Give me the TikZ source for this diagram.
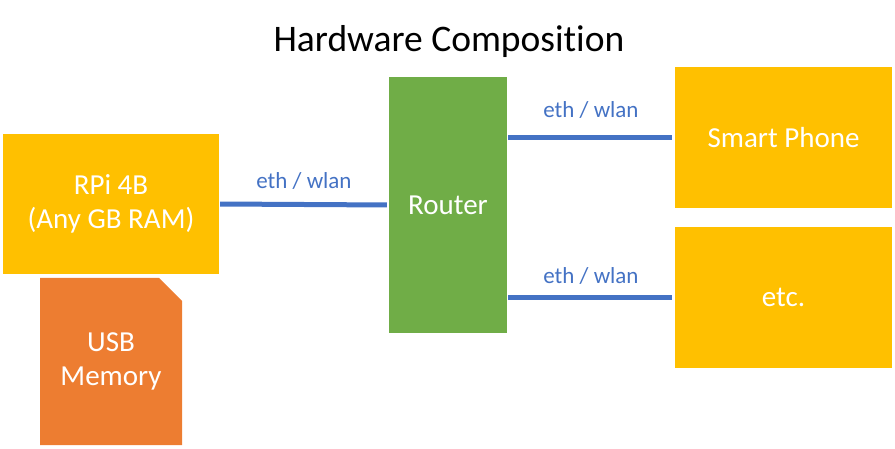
\documentclass[tikz,border=0pt]{standalone}
\usepackage{fontspec}
\setmainfont[Ligatures=NoCommon]{Carlito}
\usetikzlibrary{shapes.misc}

\definecolor{hwyellow}{HTML}{FFC000}
\definecolor{hwgreen}{HTML}{70AD47}
\definecolor{hworange}{HTML}{ED7D31}
\definecolor{hwblue}{HTML}{4472C4}

\tikzset{
    box/.style={fill=#1, text=white, inner sep=0pt, align=center,
        font=\fontsize{29}{34}\selectfont},
    link/.style={draw=hwblue, line width=5pt},
    lbl/.style={text=hwblue, font=\fontsize{23}{28}\selectfont}
}

\begin{document}
\begin{tikzpicture}[x=1pt, y=-1pt]

        \useasboundingbox (0,0) rectangle (895,449);

        \node[anchor=base, font=\fontsize{37.5}{44}\selectfont] (title) at (449,52) {Hardware Composition};

        \node[box=hwyellow, minimum width=216pt, minimum height=140pt] (rpi) at (111,204) {RPi 4B\\(Any GB RAM)};
        \node[box=hworange, chamfered rectangle, chamfered rectangle corners=north east,
            chamfered rectangle xsep=11.5pt, chamfered rectangle ysep=11.5pt,
            minimum width=142pt, minimum height=167pt] (usb) at (111,361.5) {USB\\Memory};
        \node[box=hwgreen, minimum width=118pt, minimum height=256pt] (router) at (448,205) {Router};
        \node[box=hwyellow, minimum width=217pt, minimum height=141pt] (phone) at (783.5,137.5) {Smart Phone};
        \node[box=hwyellow, minimum width=217pt, minimum height=141pt] (other) at (783.5,297.5) {etc.};

        \draw[link, shorten <=1pt, shorten >=2pt]
            (rpi.east) -- node[lbl, midway, yshift=23pt] {eth / wlan} (router.west);

        \foreach \dev/\up in {phone/27, other/21}
            \draw[link, shorten <=1pt, shorten >=3pt]
                (router.east |- \dev.west) -- node[lbl, midway, yshift=\up pt] {eth / wlan} (\dev.west);
        ;
    \end{tikzpicture}
\end{document}
